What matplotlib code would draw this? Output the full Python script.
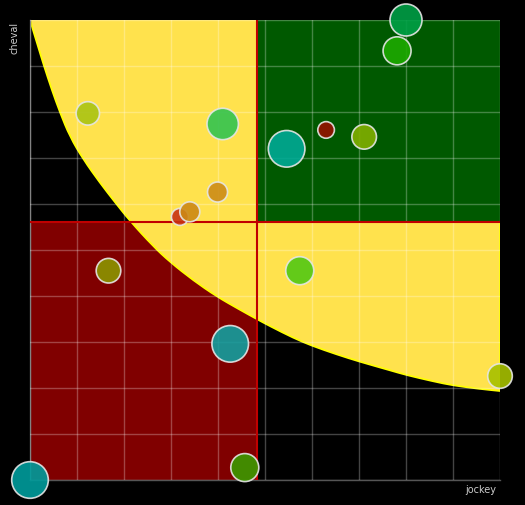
import matplotlib
matplotlib.use("Agg")
import matplotlib.pyplot as plt
from matplotlib.path import Path
from matplotlib.patches import PathPatch

# quadrant split (jockey, cheval)
split_x = 4.82
split_y = 5.61

# boundary curve of the yellow zone
curve_x = [0.0, 0.143, 0.298, 0.462, 0.638, 0.851, 1.134, 1.489, 1.80, 2.128, 2.623, 2.979,
           3.474, 3.972, 4.468, 4.823, 5.106, 5.602, 5.994, 6.526, 7.021, 7.660, 8.015,
           8.581, 9.006, 9.574, 10.0]
curve_y = [10.0, 9.52, 9.0, 8.49, 7.99, 7.46, 6.97, 6.46, 6.05, 5.63, 5.08, 4.74,
           4.34, 3.99, 3.70, 3.50, 3.345, 3.09, 2.92, 2.73, 2.57, 2.385, 2.28,
           2.145, 2.055, 1.98, 1.935]

# bubbles
jockey = [0.0, 4.57, 4.26, 5.74, 1.67, 10.0, 3.19, 3.40, 3.99, 4.10, 5.46, 6.30, 7.11, 7.81, 8.00, 1.23]
cheval = [0.0, 0.27, 2.96, 4.55, 4.55, 2.26, 5.72, 5.83, 6.26, 7.74, 7.20, 7.61, 7.46, 9.33, 10.0, 7.97]
size = [18.3, 14, 18.3, 14, 12.3, 12.3, 8.5, 10, 10, 15.7, 18.3, 8.3, 12.3, 14, 16, 11.7]
colors = ["#009c9c", "#3c9a00", "#12a0a0", "#52c814", "#8c9600", "#a6c000", "#c83214",
          "#cc8816", "#cc8c18", "#32c350", "#00aa96", "#961000", "#82af00", "#1eaa00",
          "#00a046", "#aac314"]


def smooth_path(xs, ys):
    # quadratic bezier through midpoints, read points used as control points
    pts = list(zip(xs, ys))
    verts = [pts[0]]
    codes = [Path.MOVETO]
    mid = lambda a, b: ((a[0] + b[0]) / 2, (a[1] + b[1]) / 2)
    verts.append(mid(pts[0], pts[1]))
    codes.append(Path.LINETO)
    for i in range(1, len(pts) - 1):
        verts += [pts[i], mid(pts[i], pts[i + 1])]
        codes += [Path.CURVE3, Path.CURVE3]
    verts.append(pts[-1])
    codes.append(Path.LINETO)
    return verts, codes


dpi = 100
fig = plt.figure(figsize=(5.25, 5.05), dpi=dpi, facecolor="black")
ax = fig.add_axes([30 / 525, 25 / 505, 470 / 525, 460 / 505])
ax.set_facecolor("black")
ax.set_xlim(0, 10)
ax.set_ylim(0, 10)

ax.fill_between([0, split_x], 0, split_y, color="#800000", lw=0, zorder=1)

verts, codes = smooth_path(curve_x, curve_y)
edge_verts = verts + [(curve_x[-1], 10)]
edge_codes = codes + [Path.LINETO]
ax.add_patch(PathPatch(Path(edge_verts + [(curve_x[0], 10), verts[0]],
                            edge_codes + [Path.LINETO, Path.CLOSEPOLY]),
                       facecolor="#ffe24d", lw=0, zorder=2))
ax.add_patch(PathPatch(Path(edge_verts, edge_codes), fill=False,
                       edgecolor="#ffff00", lw=1.3, zorder=2.5))
ax.fill_between([split_x, 10], split_y, 10, color="#005900", lw=0, zorder=3)

for v in range(11):
    ax.axvline(v, color="white", alpha=0.27, lw=1, zorder=4)
    ax.axhline(v, color="white", alpha=0.27, lw=1, zorder=4)

ax.axvline(split_x, color="#c00000", lw=1.5, zorder=5)
ax.axhline(split_y, color="#c00000", lw=1.5, zorder=5)

s = [(2 * r * 72 / dpi) ** 2 for r in size]
ax.scatter(jockey, cheval, s=s, c=colors, alpha=0.9, edgecolors="#e6e6e6",
           linewidths=1.2, zorder=6, clip_on=False)

ax.set_xticks([])
ax.set_yticks([])
for side in ["top", "right"]:
    ax.spines[side].set_visible(False)
for side in ["bottom", "left"]:
    ax.spines[side].set_color("#555555")
    ax.spines[side].set_linewidth(1)

fig.text(15 / 525, 1 - 38 / 505, "cheval", rotation=90, color="#cccccc",
         fontsize=7, ha="center", va="center")
fig.text(496 / 525, 1 - 490 / 505, "jockey", color="#cccccc",
         fontsize=7, ha="right", va="center")

fig.savefig("out.png", dpi=dpi, facecolor="black")
